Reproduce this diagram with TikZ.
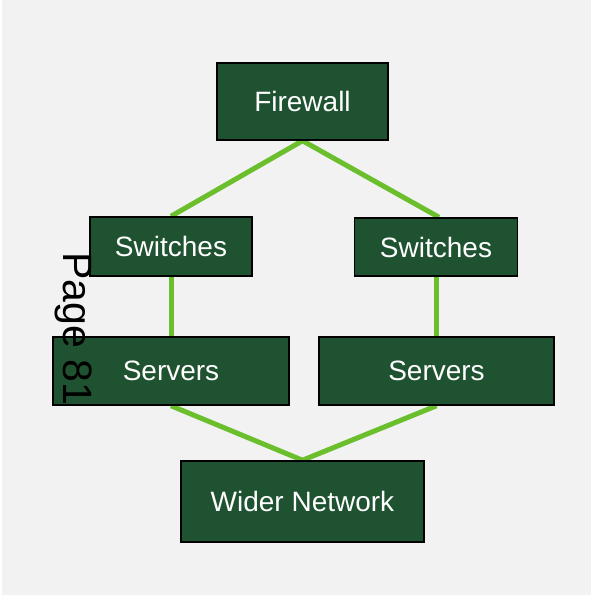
\documentclass[tikz,border=0pt]{standalone}
\usepackage{fontspec}
\setmainfont{Liberation Sans}
\usepackage{xcolor}
\definecolor{pageBack}  {HTML}{F2F2F2}
\definecolor{boxFill}   {HTML}{1F5230}
\definecolor{linkGreen} {HTML}{6CBF2C}
\usetikzlibrary{positioning, backgrounds}

\begin{document}
\begin{tikzpicture}[x=1pt, y=-1pt,
    netbox/.style={draw=black, line width=1.5pt, fill=boxFill, text=white,
        font=\fontsize{28}{34}\selectfont, inner sep=0pt, text depth=0pt},
    link/.style={draw=linkGreen, line width=5pt}]
    \useasboundingbox (0,0) rectangle (591,595);

    % Boxes, top to bottom.
    \node[netbox, minimum width=171pt, minimum height=77pt] (firewall) at (302.5,101.5) {Firewall};
    \node[netbox, minimum width=162pt, minimum height=59pt] (switchL)  at (171,246.5) {Switches};
    \node[netbox, minimum width=163pt, minimum height=58pt] (switchR)  at (436,247) {Switches};
    \node[netbox, minimum width=236pt, minimum height=68pt] (serverL)  at (171,371) {Servers};
    \node[netbox, minimum width=235pt, minimum height=68pt] (serverR)  at (436.5,371) {Servers};
    \node[netbox, minimum width=243pt, minimum height=81pt] (wider)    at (302.5,501.5) {Wider Network};

    % Page backdrop and links go under the boxes.
    \begin{scope}[on background layer]
        \fill[pageBack] (2,0) rectangle (591,595);
        \draw[link] (firewall.south) -- (switchL.north);
        \draw[link] (firewall.south) -- ([xshift=3pt]switchR.north);
        \draw[link] (switchL.south) -- (switchL.south |- serverL.north);
        \draw[link] (switchR.south) -- (switchR.south |- serverR.north);
        \draw[link] (serverL.south) -- (wider.north);
        \draw[link] (serverR.south) -- (wider.north);
    \end{scope}

    % Page number, written downwards over the left column.
    \node[rotate=-90, anchor=base west, inner sep=0pt,
        font=\fontsize{41}{48}\selectfont] (pagenum) at (63,252) {Page 81};
\end{tikzpicture}
\end{document}
